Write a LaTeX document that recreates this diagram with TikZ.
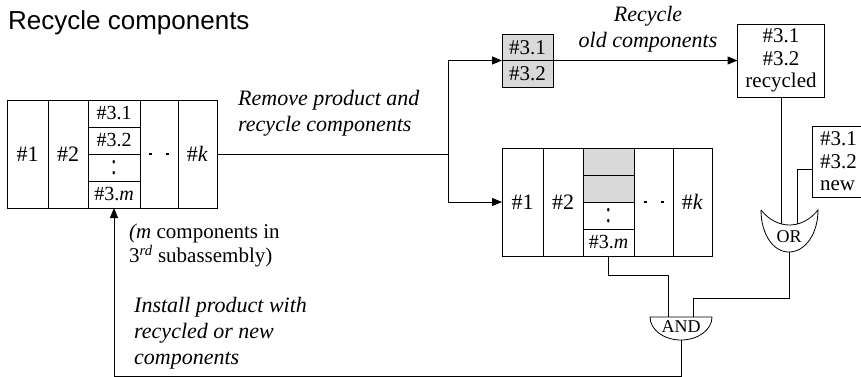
\documentclass[tikz,border=0pt]{standalone}
\usepackage{fontspec}
\setmainfont{Liberation Serif}
\newfontfamily\titlefont{Liberation Sans}
\usepackage{tikz}
\usetikzlibrary{arrows.meta,positioning}
\tikzset{
  cell/.style={draw, line width=0.8pt, minimum height=108pt, inner sep=0pt, outer sep=0pt, font=\rmfamily\fontsize{22}{26}\selectfont},
  subcell/.style={draw, line width=0.8pt, minimum width=52pt, minimum height=27pt, inner sep=0pt, outer sep=0pt, font=\rmfamily\fontsize{20}{22}\selectfont},
  shaded/.style={fill=gray!30},
  partbox/.style={draw, line width=0.8pt, inner sep=0pt, outer sep=0pt, font=\rmfamily\fontsize{21}{22.5}\selectfont},
  caption/.style={font=\rmfamily\itshape\fontsize{22}{26}\selectfont, align=left, inner sep=0pt},
  gatelabel/.style={font=\rmfamily\fontsize{18}{20}\selectfont, inner sep=0pt},
  flow/.style={-{Triangle[length=10pt,width=8pt]}, line width=1pt},
  wire/.style={line width=1pt},
  gate/.style={line width=0.8pt, fill=white},
}
\newcommand{\twodots}{\rule{3pt}{2.5pt}\hspace{14pt}\rule{3pt}{2.5pt}}
\newcommand{\twostack}{\scalebox{1}[1.5]{:}}

\begin{document}
\begin{tikzpicture}[x=1pt,y=-1pt]
  \useasboundingbox (0,0) rectangle (861,376);
  \clip (0,0) rectangle (861,376);

  % Product before removal
  \node[cell, minimum width=41pt] (l1) at (27.5,154) {\#1};
  \node[cell, minimum width=40pt, right=0pt of l1] (l2) {\#2};
  \node[subcell, anchor=north west] (l31) at (l2.north east) {\#3.1};
  \node[subcell, below=0pt of l31] (l32) {\#3.2};
  \node[subcell, below=0pt of l32] (l3d) {\twostack};
  \node[subcell, below=0pt of l3d] (l3m) {\#3.\textit{m}};
  \node[cell, minimum width=38pt, right=52pt of l2] (ld) {\twodots};
  \node[cell, minimum width=39pt, right=0pt of ld] (lk) {\#\textit{k}};

  % Old components taken out
  \node[partbox, shaded, minimum width=51pt, minimum height=26.5pt] (g1) at (527.5,47.25) {\#3.1};
  \node[partbox, shaded, minimum width=51pt, minimum height=26.5pt, below=0pt of g1] (g2) {\#3.2};
  \node[partbox, align=center, minimum width=87pt, minimum height=73pt] (recyc) at (781,60.5) {\#3.1\\\#3.2\\recycled};
  \node[partbox, align=left, text width=42pt, anchor=west, inner xsep=8pt, minimum height=71pt] (newb) at (812,161.5) {\#3.1\\\#3.2\\new};

  % Product with empty slots
  \node[cell, minimum width=41pt] (m1) at (522.5,202) {\#1};
  \node[cell, minimum width=40pt, right=0pt of m1] (m2) {\#2};
  \node[subcell, shaded, minimum width=51pt, anchor=north west] (m31) at (m2.north east) {};
  \node[subcell, shaded, minimum width=51pt, below=0pt of m31] (m32) {};
  \node[subcell, minimum width=51pt, below=0pt of m32] (m3d) {\twostack};
  \node[subcell, minimum width=51pt, below=0pt of m3d] (m3m) {\#3.\textit{m}};
  \node[cell, minimum width=39pt, right=51pt of m2] (md) {\twodots};
  \node[cell, minimum width=39pt, right=0pt of md] (mk) {\#\textit{k}};

  % Labels
  \node[caption, anchor=north west] (remove) at (238,90) {Remove product and\\recycle components};
  \node[caption, align=center, anchor=north] (old) at (648,6) {Recycle\\old components};
  \node[inner sep=0pt, anchor=north west, align=left, font=\rmfamily\fontsize{21}{24}\selectfont] (mcomp) at (129,224) {\textit{(m} components in\\3\textsuperscript{\textit{rd}} subassembly)};
  \node[caption, anchor=north west] (install) at (134,297) {Install product with\\recycled or new\\components};

  % Gate ends
  \coordinate (split) at (448,154);
  \coordinate (orin1) at (781,228);
  \coordinate (orin2) at (797,228);
  \coordinate (orout) at (789,252);
  \coordinate (orbend) at (789,298);
  \coordinate (andin1) at (668,320);
  \coordinate (andin2) at (693,320);
  \coordinate (andout) at (681,340);
  \coordinate (base) at (0,376);

  % Connectors
  \draw[wire] (lk.east) -- (split);
  \draw[flow] (split) |- (g1.south west);
  \draw[flow] (split) |- (m1.west);
  \draw[flow] (g1.south east) -- (recyc.west);
  \draw[wire] (recyc.south) -- (recyc.south |- orin1);
  \draw[wire] ([yshift=-8pt]newb.west) -| (orin2);
  \draw[wire] (orout) -- (orbend) -| (andin2);
  \draw[wire] (m3m.south) -- ++(0,19) -| (andin1);
  \draw[flow] (andout) -- (andout |- base) -| (l3m.south);

  % OR gate
  \draw[gate] (761,210) .. controls +(16,20) and +(-16,20) .. (818,210)
    .. controls +(0,24) and +(16,0) .. (orout)
    .. controls +(-16,0) and +(0,24) .. (761,210);
  \node[gatelabel] (orl) at (789,237) {OR};

  % AND gate
  \draw[gate] (650,317) -- (712,317) arc[start angle=0, end angle=180, x radius=31, y radius=23] -- cycle;
  \node[gatelabel] (andl) at (681,327) {AND};

  % Title
  \node[anchor=base west, inner sep=0pt, font=\titlefont\fontsize{26}{30}\selectfont] (title) at (8,29) {Recycle components};
\end{tikzpicture}
\end{document}
